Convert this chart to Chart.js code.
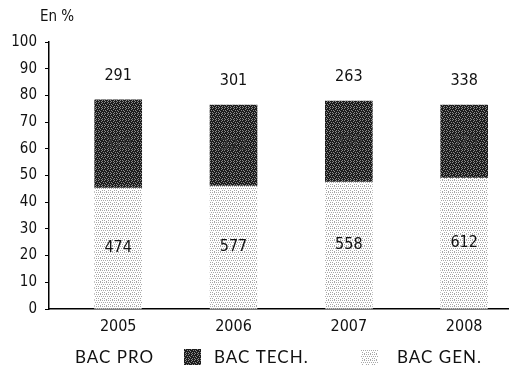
<!DOCTYPE html>
<html>
<head>
  <meta charset="UTF-8">
  <title>Bac par filière</title>
  <script src="https://cdn.jsdelivr.net/npm/chart.js"></script>
  <style>
    html, body { margin: 0; padding: 0; background: #fff; }
    #wrap { width: 509px; height: 378px; position: relative; }
  </style>
</head>
<body>
  <div id="wrap"><canvas id="chart" width="509" height="378"></canvas></div>

  <script>
    // années
    const years = ['2005', '2006', '2007', '2008'];
    // parts en %
    const genPct  = [45.3, 46.0, 47.5, 49.0];
    const techPct = [33.0, 30.4, 30.4, 27.4];
    const proPct  = [21.7, 23.6, 22.1, 23.6];
    // effectifs affichés dans les barres
    const genCount  = [474, 577, 558, 612];
    const techCount = [310, 322, 350, 325];
    const proCount  = [291, 301, 263, 338];
    const yTicks = [0, 10, 20, 30, 40, 50, 60, 70, 80, 90, 100];

    const numFont = "'DejaVu Sans Condensed', 'Liberation Sans Narrow', sans-serif";
    const legFont = "'Lato', 'Noto Sans', sans-serif";

    // petits motifs tramés
    function makePattern(bg, dot, cells) {
      const c = document.createElement('canvas');
      c.width = 6; c.height = 6;
      const g = c.getContext('2d');
      g.fillStyle = bg; g.fillRect(0, 0, 6, 6);
      g.fillStyle = dot;
      cells.forEach(p => g.fillRect(p[0], p[1], 1, 1));
      return g.createPattern(c, 'repeat');
    }
    const ctx = document.getElementById('chart').getContext('2d');
    const darkPat = makePattern('#1c1c1c', '#8a8a8a',
      [[0,0],[2,0],[5,1],[1,2],[3,2],[4,3],[0,4],[2,4],[5,5],[3,5]]);
    const lightPat = makePattern('#ffffff', '#a8a8a8',
      [[0,0],[2,0],[4,0],[1,2],[3,2],[5,2],[0,4],[2,4],[4,5]]);

    const datasets = [
      { label: 'BAC GEN.',  data: genPct,  counts: genCount,  backgroundColor: lightPat, legendFill: lightPat },
      { label: 'BAC TECH.', data: techPct, counts: techCount, backgroundColor: darkPat,  legendFill: darkPat },
      { label: 'BAC PRO',   data: proPct,  counts: proCount,  backgroundColor: 'rgba(255,255,255,0)', legendFill: null, above: true }
    ].map(d => Object.assign(d, {
      data: d.data.map((v, i) => ({ x: i, y: v })),
      barThickness: 47,
      borderWidth: 0
    }));

    // textes : effectifs, titre de l'axe, légende
    const textPlugin = {
      id: 'texts',
      afterDatasetsDraw(chart) {
        const c = chart.ctx;
        c.save();
        c.textAlign = 'center';
        c.textBaseline = 'middle';
        c.font = '16px ' + numFont;
        chart.data.datasets.forEach((ds, di) => {
          chart.getDatasetMeta(di).data.forEach((bar, i) => {
            const top = Math.min(bar.y, bar.base);
            const bot = Math.max(bar.y, bar.base);
            let y = (top + bot) / 2;
            if (ds.above) y = bot - 24;
            c.fillStyle = (ds.legendFill === darkPat) ? '#3a3a3a' : '#111';
            c.fillText(String(ds.counts[i]), bar.x, y);
          });
        });
        // titre axe
        c.textAlign = 'left';
        c.fillStyle = '#111';
        c.font = '15px ' + numFont;
        c.fillText('En %', 40, 17);
        // légende
        const items = [
          { ds: chart.data.datasets[2], box: null, tx: 75 },
          { ds: chart.data.datasets[1], box: 184, tx: 214 },
          { ds: chart.data.datasets[0], box: 361, tx: 397 }
        ];
        c.font = '17px ' + legFont;
        c.letterSpacing = '1px';
        items.forEach(it => {
          if (it.box !== null && it.ds.legendFill) {
            c.fillStyle = it.ds.legendFill;
            c.fillRect(it.box, 349, 17, 16);
          }
          c.fillStyle = '#111';
          c.fillText(it.ds.label, it.tx, 358);
        });
        c.restore();
      }
    };

    new Chart(ctx, {
      type: 'bar',
      data: { datasets: datasets },
      options: {
        responsive: false,
        animation: false,
        layout: { padding: { top: 42, right: 1, left: 0, bottom: 0 } },
        plugins: { legend: { display: false }, tooltip: { enabled: false } },
        scales: {
          x: {
            type: 'linear',
            stacked: true,
            offset: false,
            min: -0.6,
            max: 3.38,
            afterBuildTicks(scale) { scale.ticks = years.map((_, i) => ({ value: i })); },
            afterFit(scale) { scale.height = 69; },
            ticks: {
              callback: (v) => years[v],
              color: '#111',
              font: { family: numFont, size: 16 },
              padding: 8,
              maxRotation: 0
            },
            grid: { display: false, drawTicks: false },
            border: { display: true, color: '#000', width: 1.5 }
          },
          y: {
            stacked: true,
            min: 0,
            max: 100,
            afterBuildTicks(scale) { scale.ticks = yTicks.map(v => ({ value: v })); },
            afterFit(scale) { scale.width = 49; },
            ticks: {
              color: '#111',
              font: { family: numFont, size: 15 },
              padding: 8
            },
            grid: { drawOnChartArea: false, drawTicks: true, tickLength: 4, color: '#000' },
            border: { display: true, color: '#000', width: 1.5 }
          }
        }
      },
      plugins: [textPlugin]
    });
  </script>
</body>
</html>
